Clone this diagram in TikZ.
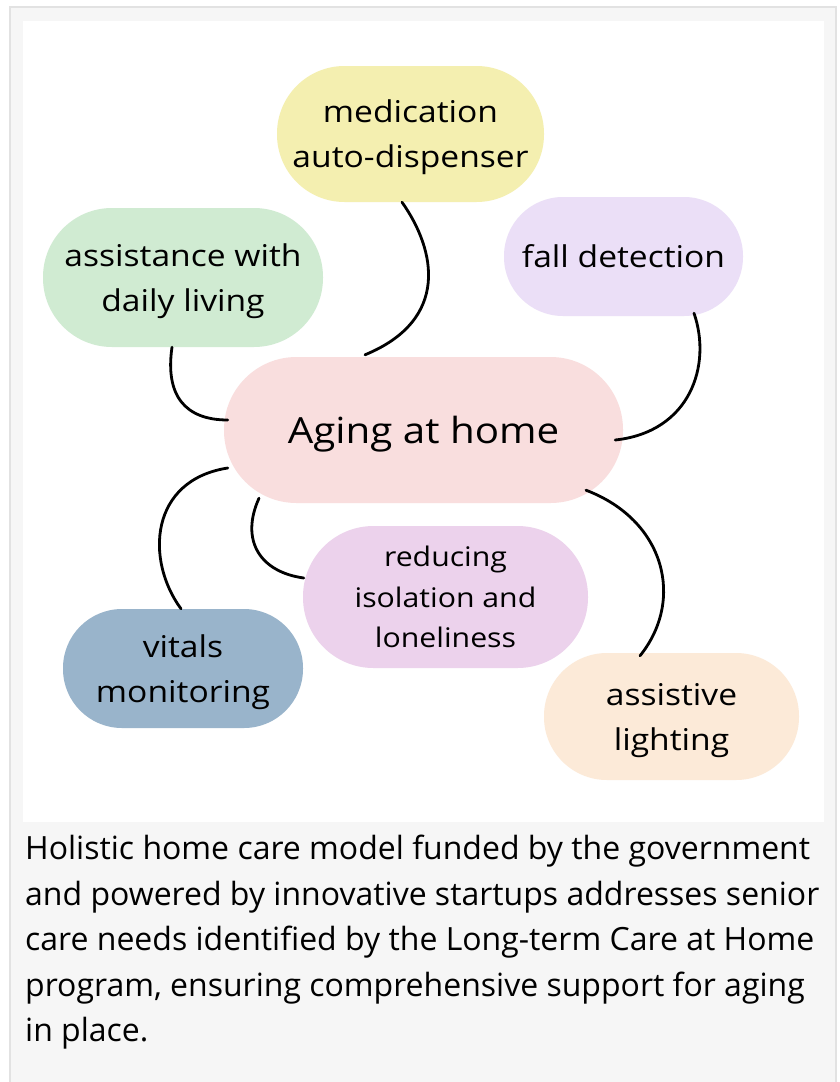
\documentclass[tikz,border=0pt]{standalone}
\usepackage{fontspec}
\setmainfont{Open Sans}
\newfontfamily\bubblefont[FakeStretch=1.12]{Open Sans}
\usepackage{tikz}
\usetikzlibrary{calc}
\usepackage{xcolor}
\definecolor{panelgray}{HTML}{F6F6F6}
\definecolor{edgegray}{HTML}{E2E2E2}
\definecolor{medyellow}{HTML}{F4EFB0}
\definecolor{assistgreen}{HTML}{D0EBD2}
\definecolor{falllilac}{HTML}{EBDFF7}
\definecolor{homepink}{HTML}{F9DEDE}
\definecolor{reducemauve}{HTML}{ECD2EC}
\definecolor{vitalsblue}{HTML}{99B4CB}
\definecolor{lightpeach}{HTML}{FCEAD8}

\begin{document}
\begin{tikzpicture}[x=1pt,y=-1pt,
    bubble/.style={rectangle,inner sep=0pt,text depth=0pt,align=center,text=black,font=\bubblefont\fontsize{30}{45}\selectfont},
    link/.style={line width=2.8pt,black,line cap=round},
    caption/.style={anchor=north west,inner sep=0pt,align=left,font=\fontsize{32}{45.5}\selectfont}
  ]
    \useasboundingbox (0,0) rectangle (840,1082);
    % panel and white drawing area
    \filldraw[fill=panelgray,draw=edgegray,line width=1.6pt] (10,7) rectangle (836,1086);
    \fill[white] (22.7,20.7) rectangle (824,822);

    % Topics round the centre
    \node[bubble,fill=medyellow,minimum width=267pt,minimum height=136pt,rounded corners=67.5pt] (med) at (410.5,134) {medication\\auto-dispenser};
    \node[bubble,fill=assistgreen,minimum width=280pt,minimum height=139pt,rounded corners=69pt] (assist) at (183,277.5) {assistance with\\daily living};
    \node[bubble,fill=falllilac,minimum width=239pt,minimum height=119pt,rounded corners=59pt] (fall) at (623.5,256.5) {fall detection};
    \node[bubble,fill=homepink,minimum width=399pt,minimum height=146pt,rounded corners=72.5pt,font=\bubblefont\fontsize{36}{44}\selectfont] (home) at (423.5,430) {Aging at home};
    \node[bubble,fill=reducemauve,minimum width=285pt,minimum height=142pt,rounded corners=70.5pt,font=\bubblefont\fontsize{27}{40.5}\selectfont] (reduce) at (445.5,597) {reducing\\isolation and\\loneliness};
    \node[bubble,fill=vitalsblue,minimum width=240pt,minimum height=119pt,rounded corners=59pt] (vitals) at (183,668.5) {vitals\\monitoring};
    \node[bubble,fill=lightpeach,minimum width=255pt,minimum height=127pt,rounded corners=63pt] (light) at (671.5,716.5) {assistive\\lighting};

    % Curved links to the centre
    \draw[link] ($(med.south)+(-8.5,0)$) .. controls +(34,48) and +(85,-35) .. ($(home.north)+(-58.5,-2)$);
    \draw[link] ($(assist.south)+(-11,0)$) .. controls +(-7,48) and +(-43,0) .. ($(home.west)+(4,-10)$);
    \draw[link] ($(fall.south)+(70.5,-3)$) .. controls +(18,52) and +(75,-8) .. ($(home.east)+(-8,10)$);
    \draw[link] ($(home.west)+(4,38)$) .. controls +(-78,12) and +(-36,-49) .. ($(vitals.north)+(-2,0)$);
    \draw[link] ($(home.south)+(-164.5,-5)$) .. controls +(-19,42) and +(-44,-6) .. ($(reduce.west)+(1,-19)$);
    \draw[link] ($(home.south)+(162.5,-13)$) .. controls +(79,30) and +(45,-56) .. ($(light.north)+(-31.5,3)$);

    % Caption under the picture
    \node[caption] (note) at (25,835) {Holistic home care model funded by the government\\and powered by innovative startups addresses senior\\care needs identified by the Long-term Care at Home\\program, ensuring comprehensive support for aging\\in place.};
\end{tikzpicture}
\end{document}
